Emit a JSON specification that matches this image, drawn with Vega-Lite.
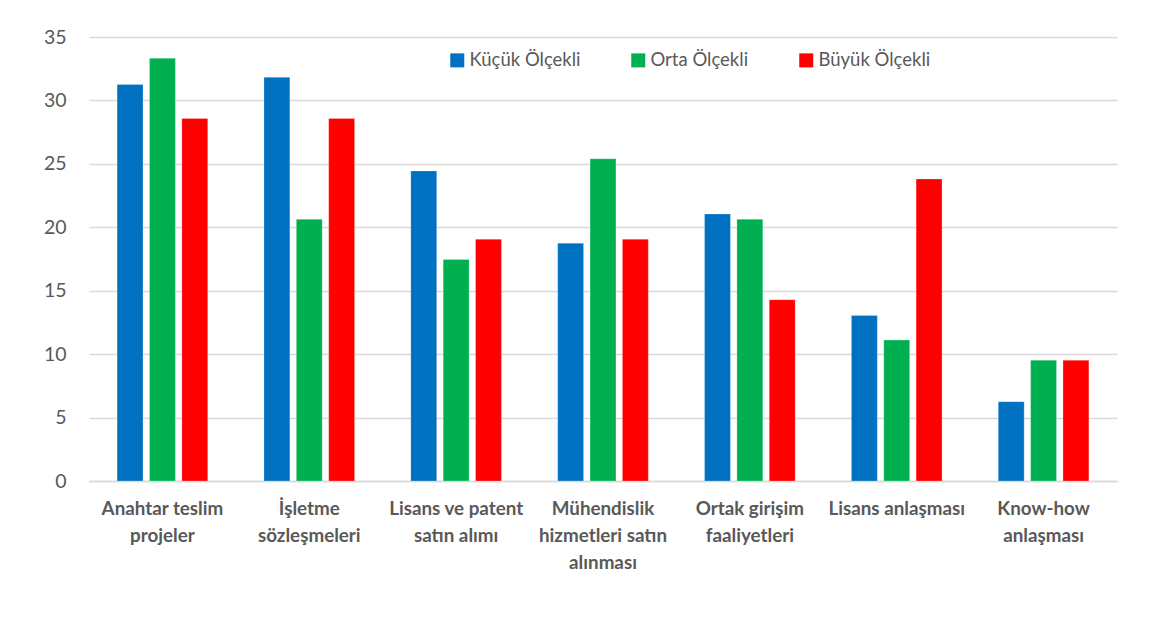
{
  "$schema": "https://vega.github.io/schema/vega-lite/v6.json",
  "width": 1028,
  "height": 444,
  "autosize": {"type": "none"},
  "padding": {"left": 89, "top": 37, "right": 39, "bottom": 158},
  "background": "white",
  "config": {
    "view": {"stroke": null},
    "font": "Lato"
  },
  "data": {
    "values": [
      {"kategori": "Anahtar teslim|projeler", "olcek": "Küçük Ölçekli", "deger": 31.25},
      {"kategori": "Anahtar teslim|projeler", "olcek": "Orta Ölçekli", "deger": 33.33},
      {"kategori": "Anahtar teslim|projeler", "olcek": "Büyük Ölçekli", "deger": 28.57},
      {"kategori": "İşletme|sözleşmeleri", "olcek": "Küçük Ölçekli", "deger": 31.82},
      {"kategori": "İşletme|sözleşmeleri", "olcek": "Orta Ölçekli", "deger": 20.63},
      {"kategori": "İşletme|sözleşmeleri", "olcek": "Büyük Ölçekli", "deger": 28.57},
      {"kategori": "Lisans ve patent|satın alımı", "olcek": "Küçük Ölçekli", "deger": 24.44},
      {"kategori": "Lisans ve patent|satın alımı", "olcek": "Orta Ölçekli", "deger": 17.46},
      {"kategori": "Lisans ve patent|satın alımı", "olcek": "Büyük Ölçekli", "deger": 19.05},
      {"kategori": "Mühendislik|hizmetleri satın|alınması", "olcek": "Küçük Ölçekli", "deger": 18.75},
      {"kategori": "Mühendislik|hizmetleri satın|alınması", "olcek": "Orta Ölçekli", "deger": 25.40},
      {"kategori": "Mühendislik|hizmetleri satın|alınması", "olcek": "Büyük Ölçekli", "deger": 19.05},
      {"kategori": "Ortak girişim|faaliyetleri", "olcek": "Küçük Ölçekli", "deger": 21.05},
      {"kategori": "Ortak girişim|faaliyetleri", "olcek": "Orta Ölçekli", "deger": 20.63},
      {"kategori": "Ortak girişim|faaliyetleri", "olcek": "Büyük Ölçekli", "deger": 14.29},
      {"kategori": "Lisans anlaşması", "olcek": "Küçük Ölçekli", "deger": 13.04},
      {"kategori": "Lisans anlaşması", "olcek": "Orta Ölçekli", "deger": 11.11},
      {"kategori": "Lisans anlaşması", "olcek": "Büyük Ölçekli", "deger": 23.81},
      {"kategori": "Know-how|anlaşması", "olcek": "Küçük Ölçekli", "deger": 6.25},
      {"kategori": "Know-how|anlaşması", "olcek": "Orta Ölçekli", "deger": 9.52},
      {"kategori": "Know-how|anlaşması", "olcek": "Büyük Ölçekli", "deger": 9.52}
    ]
  },
  "mark": {"type": "bar", "stroke": "white", "strokeOpacity": 0.4, "strokeWidth": 0.6},
  "encoding": {
    "x": {
      "field": "kategori",
      "type": "nominal",
      "sort": null,
      "scale": {"paddingInner": 0.383, "paddingOuter": 0.1915},
      "axis": {
        "title": null,
        "labelAngle": 0,
        "labelExpr": "split(datum.label, '|')",
        "labelFont": "Lato",
        "labelFontWeight": "bold",
        "labelFontSize": 18.8,
        "labelColor": "#595959",
        "labelLineHeight": 27,
        "labelBaseline": "top",
        "labelPadding": 18,
        "labelLimit": 300,
        "ticks": false,
        "domain": true,
        "domainColor": "#d9d9d9",
        "domainWidth": 1.6,
        "grid": false
      }
    },
    "xOffset": {
      "field": "olcek",
      "type": "nominal",
      "sort": ["Küçük Ölçekli", "Orta Ölçekli", "Büyük Ölçekli"],
      "scale": {"paddingInner": 0.2, "paddingOuter": 0}
    },
    "y": {
      "field": "deger",
      "type": "quantitative",
      "scale": {"domain": [0, 35], "nice": false},
      "axis": {
        "title": null,
        "values": [0, 5, 10, 15, 20, 25, 30, 35],
        "domain": false,
        "ticks": false,
        "grid": true,
        "gridColor": "#d9d9d9",
        "gridWidth": 1.6,
        "labelFont": "Lato",
        "labelFontSize": 19.5,
        "labelColor": "#595959",
        "labelPadding": 23
      }
    },
    "color": {
      "field": "olcek",
      "type": "nominal",
      "sort": ["Küçük Ölçekli", "Orta Ölçekli", "Büyük Ölçekli"],
      "scale": {
        "domain": ["Küçük Ölçekli", "Orta Ölçekli", "Büyük Ölçekli"],
        "range": ["#0070C0", "#00B050", "#FF0000"]
      },
      "legend": {
        "title": null,
        "orient": "none",
        "direction": "horizontal",
        "legendX": 359,
        "legendY": 14,
        "symbolType": "square",
        "symbolSize": 196,
        "symbolStrokeWidth": 0,
        "symbolOffset": 0,
        "labelOffset": 3,
        "labelFont": "Lato",
        "labelFontSize": 18.5,
        "labelColor": "#595959",
        "columnPadding": 48,
        "labelLimit": 300
      }
    }
  }
}
